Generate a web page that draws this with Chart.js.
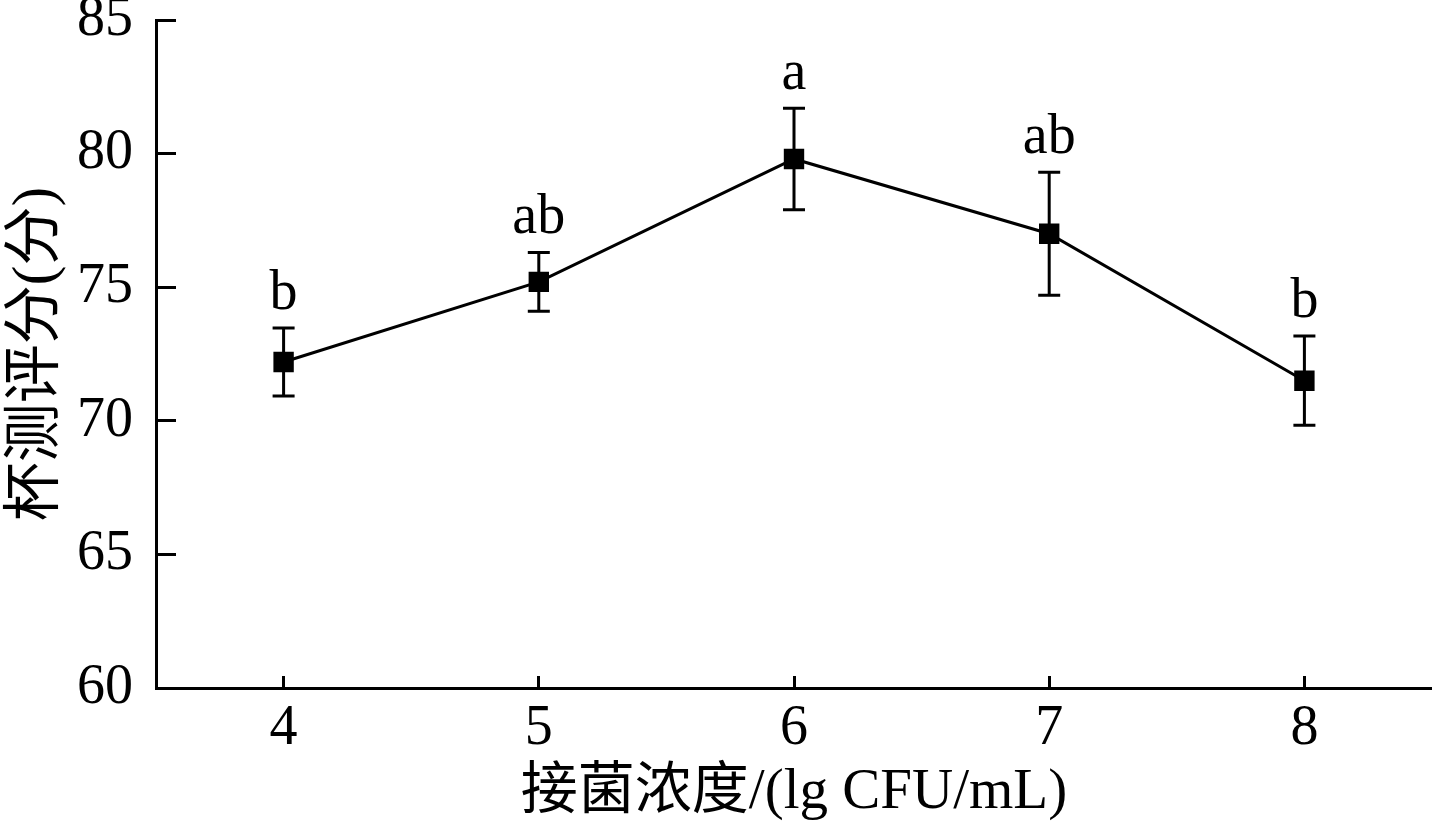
<!DOCTYPE html>
<html>
<head>
<meta charset="utf-8">
<script src="https://cdn.jsdelivr.net/npm/chart.js@4"></script>
<style>
  html, body { margin: 0; padding: 0; background: #fff; }
  canvas { display: block; }
</style>
</head>
<body>
<canvas id="cupping" width="1432" height="827"></canvas>
<script>
const doses = ['4', '5', '6', '7', '8'];
const scores = [72.2, 75.2, 79.8, 77.0, 71.5];
const errors = [1.27, 1.1, 1.9, 2.3, 1.67];
const letters = ['b', 'ab', 'a', 'ab', 'b'];
const yTicks = [60, 65, 70, 75, 80, 85];

const serif = '"Liberation Serif", "Noto Sans CJK SC", serif';

// error bars + significance letters, placed with the chart's own scales
const errorBars = {
    id: 'errorBars',
    afterDatasetsDraw(chart) {
        const ctx = chart.ctx;
        const x = chart.scales.x;
        const y = chart.scales.y;
        ctx.save();
        ctx.strokeStyle = '#000';
        ctx.lineWidth = 3;
        ctx.fillStyle = '#000';
        ctx.font = '56px ' + serif;
        ctx.textAlign = 'center';
        ctx.textBaseline = 'alphabetic';
        scores.forEach((v, i) => {
            const px = x.getPixelForValue(i);
            const top = y.getPixelForValue(v + errors[i]);
            const bot = y.getPixelForValue(v - errors[i]);
            ctx.beginPath();
            ctx.moveTo(px, top); ctx.lineTo(px, bot);
            ctx.moveTo(px - 11, top); ctx.lineTo(px + 11, top);
            ctx.moveTo(px - 11, bot); ctx.lineTo(px + 11, bot);
            ctx.stroke();
            ctx.fillText(letters[i], px, top - 19);
        });
        ctx.restore();
    }
};

new Chart(document.getElementById('cupping'), {
    type: 'line',
    data: {
        labels: doses,
        datasets: [{
            data: scores,
            borderColor: '#000',
            borderWidth: 3,
            backgroundColor: '#000',
            pointStyle: 'rect',
            pointRadius: 13,
            pointBorderWidth: 2,
            pointBackgroundColor: '#000',
            pointBorderColor: '#000',
            tension: 0
        }]
    },
    options: {
        responsive: false,
        animation: false,
        layout: { autoPadding: false, padding: { top: 20, right: 0, bottom: 0, left: 0 } },
        plugins: { legend: { display: false }, tooltip: { enabled: false } },
        scales: {
            x: {
                type: 'category',
                offset: true,
                afterFit(scale) {
                    scale.height = 139;
                    scale.paddingLeft = 0;
                    scale.paddingRight = 0;
                },
                grid: { offset: false, drawOnChartArea: false, drawTicks: true, tickLength: -12, lineWidth: 3, color: '#000' },
                border: { display: true, width: 3, color: '#000' },
                ticks: { color: '#000', padding: 20, font: { family: serif, size: 56 } },
                title: {
                    display: true,
                    text: '接菌浓度/(lg CFU/mL)',
                    color: '#000',
                    padding: { top: 0, bottom: 0 },
                    font: { family: serif, size: 57 }
                }
            },
            y: {
                min: 60,
                max: 85,
                afterFit(scale) {
                    scale.width = 156;
                    scale.paddingTop = 0;
                    scale.paddingBottom = 0;
                },
                afterBuildTicks(scale) { scale.ticks = yTicks.map(v => ({ value: v })); },
                grid: { drawOnChartArea: false, drawTicks: true, tickLength: -20, lineWidth: 3, color: '#000' },
                border: { display: true, width: 3, color: '#000' },
                ticks: { color: '#000', padding: 43, font: { family: serif, size: 56 } },
                title: {
                    display: true,
                    text: '杯测评分(分)',
                    color: '#000',
                    padding: { top: 2, bottom: 0 },
                    font: { family: serif, size: 59 }
                }
            }
        }
    },
    plugins: [errorBars]
});
</script>
</body>
</html>
